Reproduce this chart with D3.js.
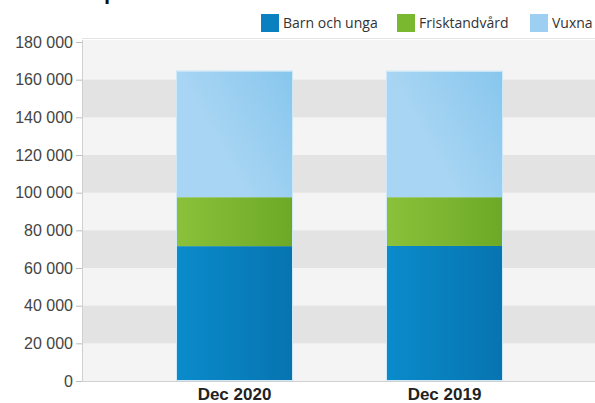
<!DOCTYPE html>
<html>
<head>
<meta charset="utf-8">
<script src="https://cdn.jsdelivr.net/npm/d3@7"></script>
<style>
  body { margin: 0; background: #fff; }
  svg { display: block; font-family: "Open Sans", "Noto Sans", sans-serif; }
  .tick text { fill: #444; }
</style>
</head>
<body>
<svg id="chart" width="595" height="403"></svg>
<script>
// data
var categories = ["Dec 2020", "Dec 2019"];
var seriesNames = ["Barn och unga", "Frisktandvård", "Vuxna"];
var barnOchUnga = [71600, 71700];
var frisktandvard = [26000, 25900];
var vuxna = [66800, 66700];
var yTicks = [0, 20000, 40000, 60000, 80000, 100000, 120000, 140000, 160000, 180000];

var svg = d3.select("#chart");
var plot = {left: 82, right: 595, top: 40, bottom: 381};

var y = d3.scaleLinear().domain([0, 180000]).range([plot.bottom, 42]);
var x = d3.scaleBand().domain(categories).range([129.5, 549.5])
  .paddingInner(0.452).paddingOuter(0.226);

var rows = categories.map(function(c, i) {
  return {cat: c, "Barn och unga": barnOchUnga[i], "Frisktandvård": frisktandvard[i], "Vuxna": vuxna[i]};
});
var stacked = d3.stack().keys(seriesNames)(rows);

// gradients
var defs = svg.append("defs");
var grads = [
  {id: "g0", x2: "100%", y2: "0%", stops: ["#0a8bcb", "#0774b0"]},
  {id: "g1", x2: "100%", y2: "0%", stops: ["#8bc13a", "#6da927"]},
  {id: "g2", x2: "100%", y2: "-60%", stops: ["#a8d5f3", "#7cc1eb"]}
];
grads.forEach(function(g) {
  var lg = defs.append("linearGradient").attr("id", g.id)
    .attr("x1", "0%").attr("y1", "0%").attr("x2", g.x2).attr("y2", g.y2);
  lg.append("stop").attr("offset", "0%").attr("stop-color", g.stops[0]);
  lg.append("stop").attr("offset", "100%").attr("stop-color", g.stops[1]);
});
var fills = {"Barn och unga": "url(#g0)", "Frisktandvård": "url(#g1)", "Vuxna": "url(#g2)"};
var legendColors = {"Barn och unga": "#0a80c0", "Frisktandvård": "#7ab830", "Vuxna": "#9ccff1"};

// title, mostly cut off at the very top
svg.append("text")
  .attr("x", 45).attr("y", -1)
  .style("font-size", "20px").style("font-weight", "bold").style("fill", "#111")
  .text("Antal patienter i allmän tandvård");

// plot background + alternating bands
svg.append("rect")
  .attr("x", plot.left).attr("y", plot.top)
  .attr("width", plot.right - plot.left).attr("height", plot.bottom - plot.top)
  .style("fill", "#f4f4f4");

svg.append("line")
  .attr("x1", plot.left).attr("x2", plot.right)
  .attr("y1", 38.5).attr("y2", 38.5)
  .style("stroke", "#e4e4e4");

var bands = d3.range(1, yTicks.length - 1, 2).map(function(i) { return [yTicks[i], yTicks[i + 1]]; });
svg.selectAll(".band").data(bands).enter().append("rect")
  .attr("class", "band")
  .attr("x", plot.left + 1).attr("width", plot.right - plot.left)
  .attr("y", function(d) { return y(d[1]); })
  .attr("height", function(d) { return y(d[0]) - y(d[1]); })
  .style("fill", "#e3e3e3");

// bars
var layer = svg.selectAll(".layer").data(stacked).enter().append("g")
  .attr("class", "layer")
  .style("fill", function(d) { return fills[d.key]; });

layer.selectAll("rect").data(function(d) { return d; }).enter().append("rect")
  .attr("x", function(d) { return x(d.data.cat); })
  .attr("width", x.bandwidth())
  .attr("y", function(d) { return y(d[1]); })
  .attr("height", function(d) { return y(d[0]) - y(d[1]); });

// thin light edge round each bar
svg.selectAll(".edge").data(rows).enter().append("rect")
  .attr("class", "edge")
  .attr("x", function(d) { return x(d.cat) - 0.5; })
  .attr("width", x.bandwidth() + 1)
  .attr("y", function(d) { return y(d["Barn och unga"] + d["Frisktandvård"] + d["Vuxna"]) - 0.5; })
  .attr("height", function(d) { return plot.bottom - y(d["Barn och unga"] + d["Frisktandvård"] + d["Vuxna"]); })
  .style("fill", "none").style("stroke", "#cde9f8").style("stroke-width", 1);

// y axis
var yAxis = svg.append("g")
  .attr("transform", "translate(" + plot.left + ",0)")
  .call(d3.axisLeft(y).tickValues(yTicks).tickSize(6).tickPadding(3)
    .tickFormat(function(d) { return d3.format(",")(d).replace(/,/g, " "); }));
yAxis.select(".domain").attr("d", "M0.5," + plot.top + "V" + plot.bottom).style("stroke", "#cfcfcf");
yAxis.selectAll(".tick line").style("stroke", "#bdbdbd");
yAxis.selectAll(".tick text").style("font-size", "16px").style("fill", "#444");

// x axis
var xAxis = svg.append("g")
  .attr("transform", "translate(0," + plot.bottom + ")")
  .call(d3.axisBottom(x).tickSize(0).tickPadding(7));
xAxis.select(".domain").attr("d", "M" + plot.left + ",0.5H" + plot.right).style("stroke", "#d0d0d0");
xAxis.selectAll(".tick text").style("font-size", "17px").style("font-weight", "bold").style("fill", "#222");

// legend
var legendX = [261, 397, 530];
var legend = svg.selectAll(".legend").data(seriesNames).enter().append("g")
  .attr("class", "legend")
  .attr("transform", function(d, i) { return "translate(" + [legendX[i], 14] + ")"; });
legend.append("rect").attr("width", 18).attr("height", 18)
  .style("fill", function(d) { return legendColors[d]; });
legend.append("text").attr("x", 22).attr("y", 14)
  .style("font-size", "14px").style("fill", "#333")
  .text(function(d) { return d; });
</script>
</body>
</html>
